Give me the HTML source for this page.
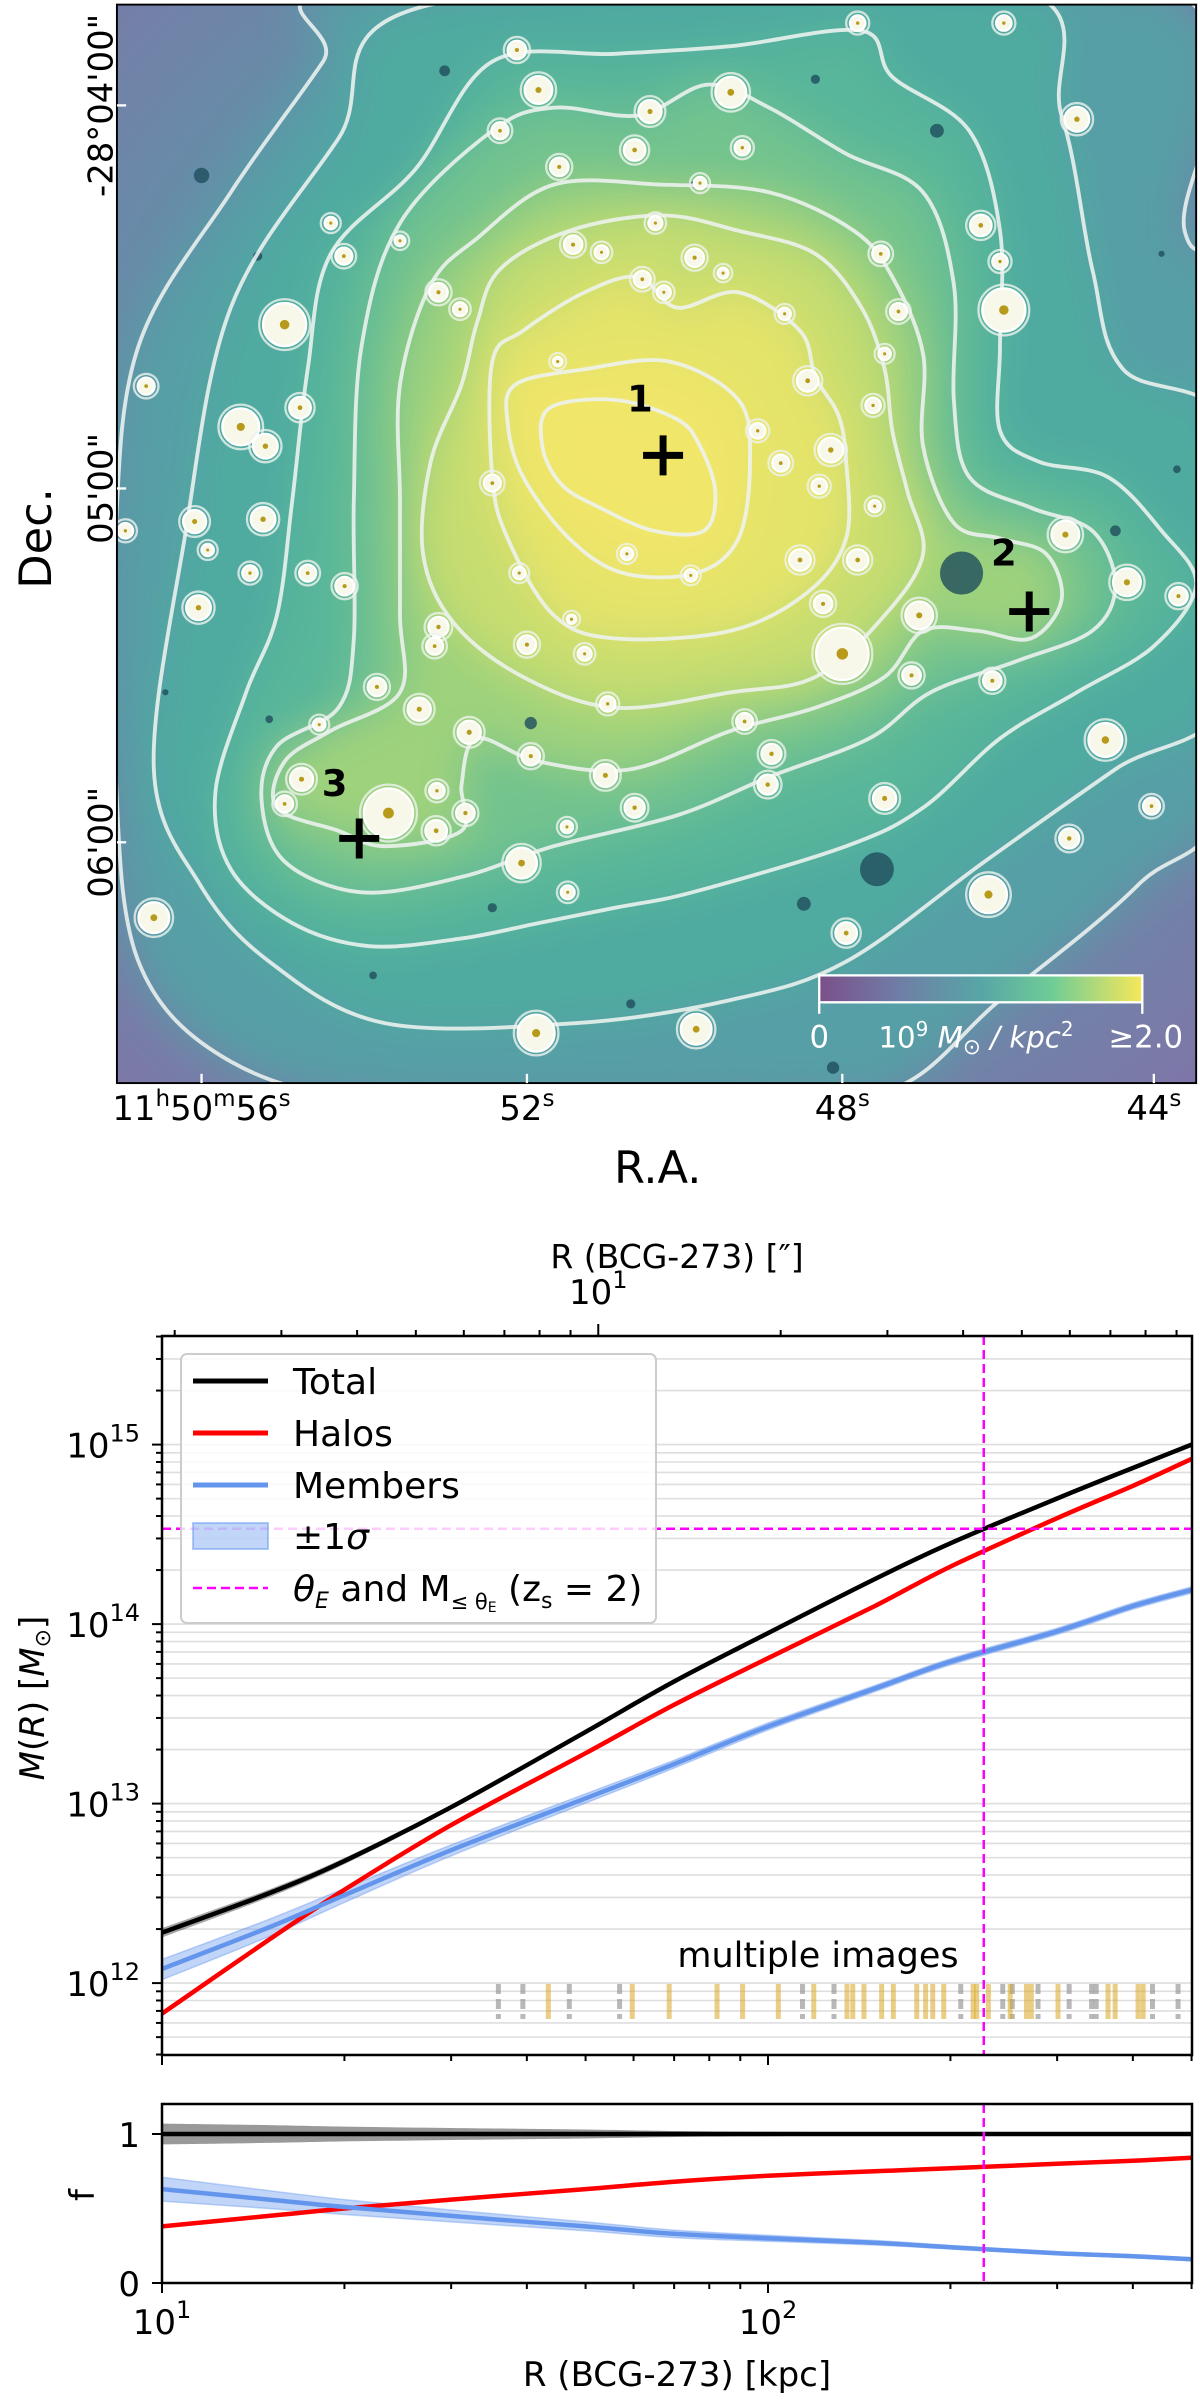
<!DOCTYPE html>
<html><head><meta charset="utf-8">
<style>
html,body{margin:0;padding:0;background:#fff;}
#page{position:relative;width:1200px;height:2401px;overflow:hidden;background:#fff;font-family:"DejaVu Sans","Liberation Sans",sans-serif;}
svg{position:absolute;left:0;top:0;}
</style></head>
<body>
<div id="page">
<svg id="map" width="1200" height="1200" viewBox="0 0 1560 1560">
 <defs>
  <clipPath id="frameclip"><rect x="152" y="6" width="1403" height="1402"/></clipPath>
  <filter id="blur" x="-20%" y="-20%" width="140%" height="140%"><feGaussianBlur stdDeviation="28"/></filter>
  <radialGradient id="bg" cx="830" cy="640" r="1050" gradientUnits="userSpaceOnUse">
   <stop offset="0" stop-color="#4fa8a0"/><stop offset="0.5" stop-color="#5a98a8"/><stop offset="1" stop-color="#7e76a8"/>
  </radialGradient>
  <linearGradient id="cbar" x1="0" x2="1" y1="0" y2="0">
   <stop offset="0" stop-color="#7b4f8a"/><stop offset="0.25" stop-color="#6f7ea6"/><stop offset="0.5" stop-color="#57a6a6"/><stop offset="0.72" stop-color="#6fcc96"/><stop offset="1" stop-color="#f6e85a"/>
  </linearGradient>
 </defs>
 <g clip-path="url(#frameclip)">
  <rect x="152" y="6" width="1403" height="1402" fill="url(#bg)"/>
  <g id="fills" filter="url(#blur)"></g>
  <g id="dots"></g>
  <g id="contours" fill="none" stroke="#eef3f0" stroke-width="5" stroke-opacity="0.88"></g>
  <g id="gals"></g>
 </g>
 <rect x="152" y="6" width="1403" height="1402" fill="none" stroke="#000" stroke-width="2.5"/>
 <g id="crosses"></g>
 <g>
  <rect x="1065" y="1268" width="420" height="35" fill="url(#cbar)" stroke="#fff" stroke-width="3"/>
  <line x1="1065" y1="1303" x2="1065" y2="1318" stroke="#fff" stroke-width="3"/>
  <line x1="1485" y1="1303" x2="1485" y2="1318" stroke="#fff" stroke-width="3"/>
  <text x="1065" y="1362" fill="#fff" font-size="40" text-anchor="middle">0</text>
  <text x="1142" y="1362" fill="#fff" font-size="38">10<tspan font-size="26" dy="-15">9</tspan><tspan dy="15" font-style="italic"> M</tspan><tspan font-size="28" dy="8">⊙</tspan><tspan dy="-8" font-style="italic"> / kpc</tspan><tspan font-size="26" dy="-15">2</tspan></text>
  <text x="1538" y="1362" fill="#fff" font-size="40" text-anchor="end">≥2.0</text>
 </g>
 <g id="mapaxes" font-size="44" fill="#000"></g>
</svg>

<svg id="chart" width="1200" height="2401" viewBox="0 0 1200 2401"></svg>
</div>

<script>
(function(){
const NS="http://www.w3.org/2000/svg";
function el(t,a,p){const e=document.createElementNS(NS,t);for(const k in a)e.setAttribute(k,a[k]);p.appendChild(e);return e;}
function smooth(pts){let d="";const n=pts.length;
 for(let i=0;i<n;i++){const p0=pts[(i-1+n)%n],p1=pts[i],p2=pts[(i+1)%n],p3=pts[(i+2)%n];
  if(i===0)d+="M"+p1[0]+","+p1[1];
  const c1=[p1[0]+(p2[0]-p0[0])/6,p1[1]+(p2[1]-p0[1])/6],c2=[p2[0]-(p3[0]-p1[0])/6,p2[1]-(p3[1]-p1[1])/6];
  d+="C"+c1[0].toFixed(1)+","+c1[1].toFixed(1)+" "+c2[0].toFixed(1)+","+c2[1].toFixed(1)+" "+p2[0]+","+p2[1];}
 return d+"Z";}
const C=[
[[150,700],[180,450],[300,250],[420,80],[480,-20],[1500,-20],[1540,300],[1600,380],[1600,1000],[1480,1150],[1300,1300],[1150,1420],[900,1430],[500,1430],[300,1380],[180,1250],[150,1000]],
[[240,700],[300,400],[440,180],[560,6],[1300,-20],[1380,150],[1420,350],[1460,480],[1600,560],[1600,900],[1450,1000],[1280,1120],[1100,1250],[950,1300],[750,1330],[500,1330],[350,1250],[260,1150],[200,1000]],
[[430,330],[540,220],[640,80],[800,70],[950,60],[1120,40],[1160,100],[1260,170],[1300,300],[1300,450],[1300,560],[1350,600],[1440,620],[1510,690],[1555,760],[1500,840],[1400,900],[1300,960],[1200,1050],[1100,1100],[900,1160],[800,1180],[700,1200],[600,1220],[480,1230],[380,1200],[300,1130],[280,1030],[320,900],[360,800],[380,650],[400,480]],
[[520,290],[640,170],[720,140],[830,150],[920,110],[1000,140],[1100,200],[1200,250],[1240,370],[1240,520],[1260,620],[1340,660],[1420,690],[1450,760],[1420,820],[1320,860],[1210,900],[1130,960],[1000,1010],[880,1060],[720,1100],[600,1140],[470,1160],[370,1120],[340,1040],[360,970],[440,920],[460,830],[460,650],[470,450]],
[[560,370],[620,310],[720,240],[860,240],[1000,250],[1110,300],[1160,360],[1200,460],[1200,580],[1240,680],[1300,700],[1360,720],[1380,780],[1340,830],[1270,820],[1200,820],[1150,880],[1060,920],[950,950],[820,1000],[700,990],[620,960],[600,1020],[600,1080],[500,1100],[440,1080],[360,1050],[370,990],[430,950],[520,900],[520,800],[520,650],[520,500]],
[[620,420],[650,350],[740,300],[860,280],[960,300],[1060,330],[1120,400],[1150,480],[1160,560],[1180,640],[1200,720],[1150,800],[1060,880],[950,900],[800,920],[680,880],[590,810],[550,720],[560,600],[600,500]],
[[640,470],[680,430],[760,380],[830,360],[880,400],[960,380],[1040,430],[1060,490],[1090,540],[1100,600],[1100,700],[1050,770],[950,820],[800,830],[720,800],[660,700],[640,620]],
[[670,500],[760,480],[870,470],[960,520],[975,600],[960,700],[905,745],[810,745],[740,700],[680,620],[660,550]],
[[715,530],[800,520],[880,545],[910,580],[930,640],[915,690],[850,690],[780,660],[730,630],[705,580]]];
const fillc=["#579fa6","#50aaa0","#58b69a","#72c38e","#9ed27c","#c6dd70","#e4e36b","#eee56a","#f1e66a"];
const F=document.getElementById("fills"),K=document.getElementById("contours");
C.forEach((p,i)=>{const d=smooth(p);
 el("path",{d:d,fill:fillc[i]},F);
 const s=el("path",{d:d},K);
 
 });
const D=document.getElementById("dots");
[[262,228,10],[578,92,7],[1060,103,6],[1218,170,9],[335,333,6],[1250,745,28],[1140,1130,22],[1045,1175,9],[690,940,8],[1083,1388,8],[820,1305,6],[485,1268,5],[350,935,5],[1450,690,7],[1530,610,5],[1510,330,4],[900,240,4],[215,900,4],[640,1180,6]].forEach(q=>{
 el("circle",{cx:q[0],cy:q[1],r:q[2],fill:"#1f4e5c","fill-opacity":"0.8"},D);});
const G=document.getElementById("gals");
const gal=[[700,117,18],[950,120,20],[845,145,15],[825,195,14],[650,170,11],[965,192,10],[727,217,12],[910,238,8],[672,65,12],[1115,30,10],[1305,30,10],[1400,155,16],[1275,293,14],[1300,340,10],[1305,403,28],[1145,330,11],[1168,405,11],[1150,460,8],[1020,408,8],[1050,495,14],[1135,527,10],[1080,585,16],[1065,632,10],[1015,602,11],[985,560,10],[1137,658,8],[1040,728,14],[1115,728,14],[1070,785,12],[1095,850,34],[1195,800,18],[1185,878,12],[1290,885,12],[1385,695,18],[1465,757,18],[1532,775,12],[1437,962,22],[1497,1048,11],[1390,1090,13],[1285,1163,24],[1100,1213,14],[905,1338,20],[697,1343,24],[738,1160,9],[678,1122,20],[825,1050,13],[737,1075,8],[998,1020,13],[1003,980,13],[968,938,11],[1150,1038,15],[787,1008,15],[690,983,12],[610,952,15],[545,922,15],[490,893,12],[570,815,13],[565,840,11],[685,838,12],[760,850,9],[790,915,10],[370,422,28],[313,555,24],[345,580,16],[390,530,14],[190,502,11],[253,678,15],[342,675,16],[270,715,8],[163,690,10],[325,745,10],[400,745,11],[448,762,12],[258,790,16],[570,380,12],[598,402,9],[520,313,7],[430,290,8],[447,333,11],[745,318,12],[782,328,9],[852,290,9],[903,335,12],[940,355,7],[835,363,11],[863,380,9],[640,628,11],[675,745,8],[815,720,8],[898,748,8],[743,805,6],[200,1193,20],[392,1013,15],[370,1045,11],[415,942,8],[505,1057,32],[567,1080,14],[568,1028,10],[605,1057,12],[725,470,6]];
gal.forEach(g=>{
 const grp=el("g",{},G);
 
 
 el("circle",{cx:g[0],cy:g[1],r:g[2]+5,fill:"none",stroke:"#eef3ee","stroke-width":"3","stroke-opacity":"0.8"},grp);
 el("circle",{cx:g[0],cy:g[1],r:g[2],fill:"#f7f7ea",stroke:"#ffffff","stroke-width":"3"},grp);
 el("circle",{cx:g[0],cy:g[1],r:Math.max(2,g[2]*0.22),fill:"#b89a1a"},grp);});
const X=document.getElementById("crosses");
[[862,592,832,535,"1"],[1338,795,1305,735,"2"],[467,1090,435,1035,"3"]].forEach(c=>{
 const grp=el("g",{},X);
 
 
 el("path",{d:`M${c[0]-26},${c[1]}H${c[0]+26}M${c[0]},${c[1]-26}V${c[1]+26}`,stroke:"#000","stroke-width":"9"},grp);
 const t=el("text",{x:c[2],y:c[3],"font-size":"48","font-weight":"bold","text-anchor":"middle"},grp);t.textContent=c[4];});
const A=document.getElementById("mapaxes");
function mt(x,y,html,opt){const t=el("text",Object.assign({x:x,y:y,"text-anchor":"middle"},opt||{}),A);t.innerHTML=html;return t;}
const ra=[[262,'11<tspan font-size="30" dy="-18">h</tspan><tspan dy="18">50</tspan><tspan font-size="30" dy="-18">m</tspan><tspan dy="18">56</tspan><tspan font-size="30" dy="-18">s</tspan>'],[685,'52<tspan font-size="30" dy="-18">s</tspan>'],[1095,'48<tspan font-size="30" dy="-18">s</tspan>'],[1500,'44<tspan font-size="30" dy="-18">s</tspan>']];
ra.forEach(r=>{const t=mt(r[0],1456,r[1]);
 el("line",{x1:r[0],y1:1408,x2:r[0],y2:1396,stroke:"#fff","stroke-width":"3"},A);});
const dec=[[137,'-28°04\'00"'],[635,'05\'00"'],[1095,'06\'00"']];
dec.forEach(d=>{const t=mt(0,0,d[1],{transform:`translate(146,${d[0]}) rotate(-90)`});
 el("line",{x1:152,y1:d[0],x2:164,y2:d[0],stroke:"#fff","stroke-width":"3"},A);});
const ral=mt(855,1538,"R.A.",{"font-size":"58"});
const dl=mt(0,0,"Dec.",{"font-size":"58",transform:"translate(66,700) rotate(-90)"});
})();
</script>

<script>
// ---------- CHART DATA ----------
const radiiKpc = [10,15,20,30,50,70,100,150,200,300,400,500];
const massTotal = [1.91e12,3.16e12,4.79e12,9.55e12,2.51e13,4.79e13,8.91e13,1.78e14,2.82e14,5.01e14,7.41e14,1.0e15];
const massHalos = [6.76e11,1.74e12,3.31e12,7.59e12,1.91e13,3.55e13,6.46e13,1.26e14,2.09e14,3.89e14,5.89e14,8.32e14];
const massMembers = [1.2e12,2.04e12,3.09e12,5.5e12,1.07e13,1.66e13,2.69e13,4.37e13,6.17e13,9.12e13,1.26e14,1.55e14];
const relErrTotal = [0.06,0.05,0.04,0.03,0.025,0.02,0.018,0.015,0.013,0.012,0.011,0.01];
const relErrMembers = [0.13,0.11,0.09,0.07,0.06,0.05,0.045,0.04,0.04,0.04,0.04,0.04];
const fracTotal = [1,1,1,1,1,1,1,1,1,1,1,1];
const fracTotalErr = [0.07,0.06,0.05,0.04,0.03,0.02,0.015,0.012,0.01,0.01,0.01,0.01];
const fracHalos = [0.38,0.45,0.50,0.56,0.63,0.68,0.72,0.75,0.77,0.80,0.82,0.84];
const fracMembers = [0.63,0.56,0.51,0.45,0.38,0.33,0.30,0.27,0.24,0.20,0.18,0.16];
const fracMembersErr = [0.08,0.06,0.05,0.04,0.03,0.025,0.02,0.015,0.012,0.01,0.01,0.01];
const einsteinRadiusKpc = 227;
const einsteinMass = 3.4e14;
const imageRadiiGray = [35.9,39.4,47,56.9,114,128.5,208,244,253,279,314,342,348,431,475];
const imageRadiiGold = [43.4,59.7,68.7,82.4,90.8,104,119,135,138,144,154,161,176,182,187,195,218,221,231,251,267,272,301,364,374,408,416];
const kpcPerArcsec = 5.247;
const massTickExps = [12,13,14,15];
const fracTicks = [0,1];
const radiusTickExps = [1,2];

const NS="http://www.w3.org/2000/svg";
const S=document.getElementById("chart");
function el(t,a,p){const e=document.createElementNS(NS,t);for(const k in a)e.setAttribute(k,a[k]);(p||S).appendChild(e);return e;}
const X0=162,X1=1192,DEC=606;
const xs=r=>X0+DEC*(Math.log10(r)-1);
const M_TOP=1336,M_BOT=2055;
const ym=m=>1444.6-179.5*(Math.log10(m)-15);
const F_TOP=2104,F_BOT=2283;
const yf=f=>F_BOT-149*f;
function txt(x,y,html,size,anchor,rot,parent){
 const t=el("text",{x:0,y:0,"font-size":size,"text-anchor":anchor||"middle",transform:`translate(${x},${y})`+(rot?" rotate(-90)":"")},parent);
 t.innerHTML=html;return t;}
function curve(xa,ya,start){let d=start||"M";const n=xa.length;
 d+=xa[0].toFixed(1)+","+ya[0].toFixed(1);
 for(let i=0;i<n-1;i++){const i0=Math.max(0,i-1),i3=Math.min(n-1,i+2);
  const c1x=xa[i]+(xa[i+1]-xa[i0])/6,c1y=ya[i]+(ya[i+1]-ya[i0])/6;
  const c2x=xa[i+1]-(xa[i3]-xa[i])/6,c2y=ya[i+1]-(ya[i3]-ya[i])/6;
  d+="C"+c1x.toFixed(1)+","+c1y.toFixed(1)+" "+c2x.toFixed(1)+","+c2y.toFixed(1)+" "+xa[i+1].toFixed(1)+","+ya[i+1].toFixed(1);}
 return d;}
function bandPath(xa,lo,hi){return curve(xa,lo)+curve(xa.slice().reverse(),hi.slice().reverse(),"L")+"Z";}

const grid=el("g",{stroke:"#dedede","stroke-width":"1.6"});


for(let e=11;e<=15;e++)for(let k=1;k<10;k++){const v=k*Math.pow(10,e),y=ym(v);if(y<M_TOP||y>M_BOT)continue;
 el("line",{x1:X0,x2:X1,y1:y,y2:y},grid);}

const mi=el("g",{});


imageRadiiGray.forEach(r=>{const l=el("line",{x1:xs(r),x2:xs(r),y1:1984,y2:2019,stroke:"#9a9a9a","stroke-opacity":"0.7","stroke-width":"5","stroke-dasharray":"10,5"},mi);
 });
imageRadiiGold.forEach(r=>{const l=el("line",{x1:xs(r),x2:xs(r),y1:1984,y2:2019,stroke:"#daa520","stroke-opacity":"0.55","stroke-width":"5"},mi);
 });
const mit=txt(818,1967,"multiple images",35,"middle");



const RX=radiiKpc.map(xs);
const clipM=el("clipPath",{id:"clipM"});el("rect",{x:X0,y:M_TOP,width:X1-X0,height:M_BOT-M_TOP},clipM);
const clipF=el("clipPath",{id:"clipF"});el("rect",{x:X0,y:F_TOP,width:X1-X0,height:F_BOT-F_TOP},clipF);
const gm=el("g",{"clip-path":"url(#clipM)"});
const gf=el("g",{"clip-path":"url(#clipF)"});

let b=el("path",{d:bandPath(RX,massTotal.map((m,i)=>ym(m*(1-relErrTotal[i]))),massTotal.map((m,i)=>ym(m*(1+relErrTotal[i])))),fill:"#000","fill-opacity":"0.35"},gm);

b=el("path",{d:bandPath(RX,massMembers.map((m,i)=>ym(m*(1-relErrMembers[i]))),massMembers.map((m,i)=>ym(m*(1+relErrMembers[i])))),fill:"#6495ed","fill-opacity":"0.4",stroke:"#6495ed","stroke-opacity":"0.4","stroke-width":"1.5"},gm);

let l=el("path",{d:curve(RX,massHalos.map(ym)),fill:"none",stroke:"#ff0000","stroke-width":"4.5"},gm);

l=el("path",{d:curve(RX,massMembers.map(ym)),fill:"none",stroke:"#6495ed","stroke-width":"4.5"},gm);

l=el("path",{d:curve(RX,massTotal.map(ym)),fill:"none",stroke:"#000","stroke-width":"4.5"},gm);

l=el("line",{x1:X0,x2:X1,y1:ym(einsteinMass),y2:ym(einsteinMass),stroke:"#ff00ff","stroke-width":"2.5","stroke-dasharray":"9,5"},gm);

l=el("line",{x1:xs(einsteinRadiusKpc),x2:xs(einsteinRadiusKpc),y1:M_TOP,y2:M_BOT,stroke:"#ff00ff","stroke-width":"2.5","stroke-dasharray":"9,5"},gm);


b=el("path",{d:bandPath(RX,fracTotal.map((f,i)=>yf(f-fracTotalErr[i])),fracTotal.map((f,i)=>yf(f+fracTotalErr[i]))),fill:"#000","fill-opacity":"0.4"},gf);

b=el("path",{d:bandPath(RX,fracMembers.map((f,i)=>yf(f-fracMembersErr[i])),fracMembers.map((f,i)=>yf(f+fracMembersErr[i]))),fill:"#6495ed","fill-opacity":"0.4",stroke:"#6495ed","stroke-opacity":"0.4","stroke-width":"1.5"},gf);

l=el("path",{d:curve(RX,fracTotal.map(yf)),fill:"none",stroke:"#000","stroke-width":"4.5"},gf);

l=el("path",{d:curve(RX,fracHalos.map(yf)),fill:"none",stroke:"#ff0000","stroke-width":"4.5"},gf);

l=el("path",{d:curve(RX,fracMembers.map(yf)),fill:"none",stroke:"#6495ed","stroke-width":"4.5"},gf);

l=el("line",{x1:xs(einsteinRadiusKpc),x2:xs(einsteinRadiusKpc),y1:F_TOP,y2:F_BOT,stroke:"#ff00ff","stroke-width":"2.5","stroke-dasharray":"9,5"},gf);


const lg=el("g",{});


el("rect",{x:181,y:1354,width:475,height:269,rx:6,fill:"#fff","fill-opacity":"0.8",stroke:"#cccccc","stroke-width":"2"},lg);
const rows=[1381,1433,1485,1536,1588];
const labels=["Total","Halos","Members","±1<tspan font-style=\"italic\">σ</tspan>",
 "<tspan font-style=\"italic\">θ</tspan><tspan font-size=\"22\" dy=\"7\" font-style=\"italic\">E</tspan><tspan dy=\"-7\"> and M</tspan><tspan font-size=\"21\" dy=\"8\">≤ θ</tspan><tspan font-size=\"14\" dy=\"3\">E</tspan><tspan dy=\"-11\"> (z</tspan><tspan font-size=\"22\" dy=\"7\">s</tspan><tspan dy=\"-7\"> = 2)</tspan>"];
const cols=["#000","#ff0000","#6495ed",null,"#ff00ff"];
rows.forEach((y,i)=>{
 const g=el("g",{},lg);
 
 
 if(i===3) el("rect",{x:193,y:y-13,width:75,height:26,fill:"#6495ed","fill-opacity":"0.4",stroke:"#6495ed","stroke-opacity":"0.5","stroke-width":"2"},g);
 else el("line",{x1:193,x2:268,y1:y,y2:y,stroke:cols[i],"stroke-width":i===4?2.5:5,"stroke-dasharray":i===4?"9,5":"none"},g);
 txt(293,y+13,labels[i],36,"start",false,g);
});

el("rect",{x:X0,y:M_TOP,width:X1-X0,height:M_BOT-M_TOP,fill:"none",stroke:"#000","stroke-width":"2.5"});
el("rect",{x:X0,y:F_TOP,width:X1-X0,height:F_BOT-F_TOP,fill:"none",stroke:"#000","stroke-width":"2.5"});

const tk=el("g",{stroke:"#000","stroke-width":"2"});


for(let e=11;e<=15;e++)for(let k=1;k<10;k++){const y=ym(k*Math.pow(10,e));if(y<M_TOP-1||y>M_BOT+1)continue;
 el("line",{x1:X0,x2:X0-(k===1?10:6),y1:y,y2:y},tk);}
massTickExps.forEach(e=>{const t=txt(140,ym(Math.pow(10,e))+13,`10<tspan font-size="24" dy="-16">${e}</tspan>`,34,"end");
 });
for(let e=1;e<=2;e++)for(let k=1;k<10;k++){const r=k*Math.pow(10,e);if(r>500)continue;const x=xs(r);
 el("line",{x1:x,x2:x,y1:M_BOT,y2:M_BOT+(k===1?10:6)},tk);
 el("line",{x1:x,x2:x,y1:F_BOT,y2:F_BOT+(k===1?10:6)},tk);}
radiusTickExps.forEach(e=>{const t=txt(xs(Math.pow(10,e)),2334,`10<tspan font-size="24" dy="-16">${e}</tspan>`,34,"middle");
 });
fracTicks.forEach(f=>{el("line",{x1:X0,x2:X0-10,y1:yf(f),y2:yf(f)},tk);
 const t=txt(140,yf(f)+13,String(f),34,"end");});
for(let e=0;e<=1;e++)for(let k=1;k<10;k++){const a=k*Math.pow(10,e);const x=xs(a*kpcPerArcsec);if(x<X0||x>X1)continue;
 el("line",{x1:x,x2:x,y1:M_TOP,y2:M_TOP-(k===1&&e===1?12:6)},tk);}
let t=txt(xs(10*kpcPerArcsec),1304,`10<tspan font-size="24" dy="-16">1</tspan>`,34,"middle");

t=txt(677,1268,"R (BCG-273) [″]",33,"middle");

t=txt(677,2386,"R (BCG-273) [kpc]",34,"middle");

t=txt(44,1698,'<tspan font-style="italic">M</tspan>(<tspan font-style="italic">R</tspan>) [<tspan font-style="italic">M</tspan><tspan font-size="22" dy="6">⊙</tspan><tspan dy="-6">]</tspan>',34,"middle",true);

t=txt(94,2195,"f",34,"middle",true);

</script>
</body></html>
